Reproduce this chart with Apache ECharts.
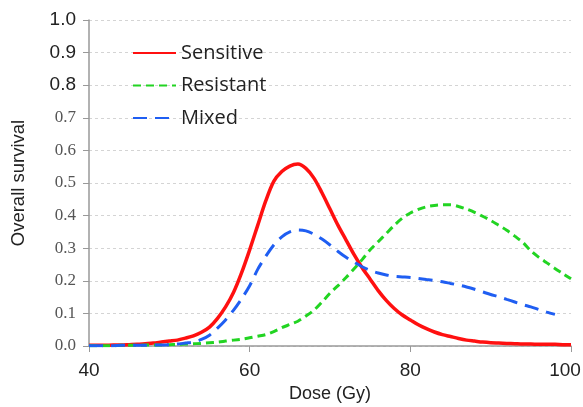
<!DOCTYPE html>
<html lang="en">
<head>
  <meta charset="UTF-8">
  <title>Overall survival vs dose</title>
  <style>
    html, body { margin: 0; padding: 0; background: #fff; }
  </style>
</head>
<body>
  <div id="chart" style="width: 583px;height: 407px;"></div>
<script src="https://cdn.jsdelivr.net/npm/echarts@6/dist/echarts.min.js"></script>
<script>
  // dose in Gy, one point per Gy
  var dose = [];
  for (var d = 40; d <= 100; d++) dose.push(d);

  var sensitive = [
    0.002, 0.002, 0.002, 0.003, 0.003, 0.004, 0.005, 0.007, 0.009, 0.012,
    0.015, 0.018, 0.024, 0.031, 0.042, 0.058, 0.085, 0.12, 0.165, 0.225,
    0.295, 0.37, 0.445, 0.505, 0.535, 0.552, 0.558, 0.545, 0.515, 0.47,
    0.42, 0.37, 0.325, 0.28, 0.24, 0.205, 0.17, 0.14, 0.115, 0.095,
    0.08, 0.065, 0.053, 0.043, 0.035, 0.029, 0.023, 0.018, 0.015, 0.012,
    0.01, 0.009, 0.008, 0.007, 0.006, 0.006, 0.005, 0.005, 0.005, 0.004,
    0.004
  ];
  var resistant = [
    0.001, 0.001, 0.001, 0.001, 0.002, 0.002, 0.002, 0.003, 0.003, 0.003,
    0.004, 0.005, 0.006, 0.007, 0.008, 0.01, 0.012, 0.015, 0.018, 0.021,
    0.025, 0.03, 0.035, 0.044, 0.056, 0.066, 0.076, 0.092, 0.11, 0.135,
    0.162, 0.185, 0.21, 0.237, 0.265, 0.295, 0.32, 0.345, 0.37, 0.392,
    0.408, 0.419, 0.427, 0.431, 0.433, 0.433, 0.428, 0.42, 0.41, 0.398,
    0.385, 0.37, 0.355, 0.337, 0.318, 0.292, 0.272, 0.255, 0.238, 0.222,
    0.206
  ];
  var mixed = [
    0.001, 0.001, 0.001, 0.001, 0.002, 0.002, 0.002, 0.002, 0.003, 0.003,
    0.004, 0.006, 0.009, 0.012, 0.02, 0.033, 0.055, 0.08, 0.11, 0.145,
    0.185, 0.235, 0.275, 0.31, 0.335, 0.35, 0.356, 0.353, 0.343, 0.328,
    0.31, 0.29, 0.272, 0.257, 0.243, 0.232, 0.224, 0.218, 0.214, 0.212,
    0.21, 0.207, 0.204, 0.201, 0.197, 0.192, 0.187, 0.181, 0.174, 0.166,
    0.158, 0.151, 0.143, 0.135, 0.127, 0.12, 0.112, 0.104, 0.097, null,
    null
  ];
  var seriesNames = ['Sensitive', 'Resistant', 'Mixed'];

  function pairs(ys) {
    return dose.map(function (x, i) { return [x, ys[i]]; });
  }

  var myChart = echarts.init(document.getElementById('chart'));
  myChart.setOption({
    animation: false,
    grid: { left: 89, right: 12, top: 20, bottom: 61, outerBoundsMode: 'none' },
    legend: {
      orient: 'vertical',
      left: 132,
      top: 43,
      padding: 0,
      itemWidth: 43,
      itemHeight: 14,
      itemGap: 12.5,
      itemStyle: { opacity: 0 },
      textStyle: { fontFamily: 'Open Sans', fontSize: 20, lineHeight: 20, color: '#222' },
      data: seriesNames
    },
    xAxis: {
      type: 'value',
      min: 40,
      max: 100,
      interval: 20,
      name: 'Dose (Gy)',
      nameLocation: 'middle',
      nameGap: 39,
      nameTextStyle: { fontFamily: 'Liberation Sans', fontSize: 18, color: '#222' },
      axisLine: { lineStyle: { color: '#999', width: 1.5 } },
      axisTick: { show: true, length: 6, lineStyle: { color: '#999' } },
      axisLabel: {
        margin: 15,
        formatter: function (v) {
          // last label sits a little inside the right edge, as in the source figure
          return v === 100 ? '{r|' + v + '}' : '{n|' + v + '}';
        },
        rich: {
          n: { fontFamily: 'Liberation Sans', fontSize: 19, color: '#222' },
          r: { fontFamily: 'Liberation Sans', fontSize: 19, color: '#222', padding: [0, 12, 0, 0] }
        }
      },
      splitLine: { show: false }
    },
    yAxis: {
      type: 'value',
      min: 0,
      max: 1,
      interval: 0.1,
      name: 'Overall survival',
      nameLocation: 'middle',
      nameGap: 61,
      nameRotate: 90,
      nameTextStyle: { fontFamily: 'Liberation Sans', fontSize: 18.5, color: '#222' },
      axisLine: { show: true, lineStyle: { color: '#999', width: 1.5 } },
      axisTick: { show: true, length: 6, lineStyle: { color: '#999' } },
      axisLabel: {
        margin: 13,
        formatter: function (v) {
          var s = v.toFixed(1);
          return v > 0.75 ? '{a|' + s + '}' : '{b|' + s + '}';
        },
        rich: {
          a: { fontFamily: 'Liberation Sans', fontSize: 19, color: '#222' },
          b: { fontFamily: 'Liberation Serif', fontSize: 17, color: '#555' }
        }
      },
      splitLine: { lineStyle: { color: '#d4d4d4', type: [3, 3] } }
    },
    series: [
      {
        name: 'Sensitive',
        type: 'line',
        data: pairs(sensitive),
        smooth: 0.3,
        symbol: 'none',
        lineStyle: { color: '#ff1010', width: 3.5 },
        itemStyle: { color: '#ff1010' }
      },
      {
        name: 'Resistant',
        type: 'line',
        data: pairs(resistant),
        smooth: 0.3,
        symbol: 'none',
        lineStyle: { color: '#22d422', width: 3, type: [8, 5] },
        itemStyle: { color: '#22d422' }
      },
      {
        name: 'Mixed',
        type: 'line',
        data: pairs(mixed),
        smooth: 0.3,
        symbol: 'none',
        lineStyle: { color: '#1f5ef2', width: 3, type: [14, 8] },
        itemStyle: { color: '#1f5ef2' }
      }
    ]
  });
</script>
</body>
</html>
